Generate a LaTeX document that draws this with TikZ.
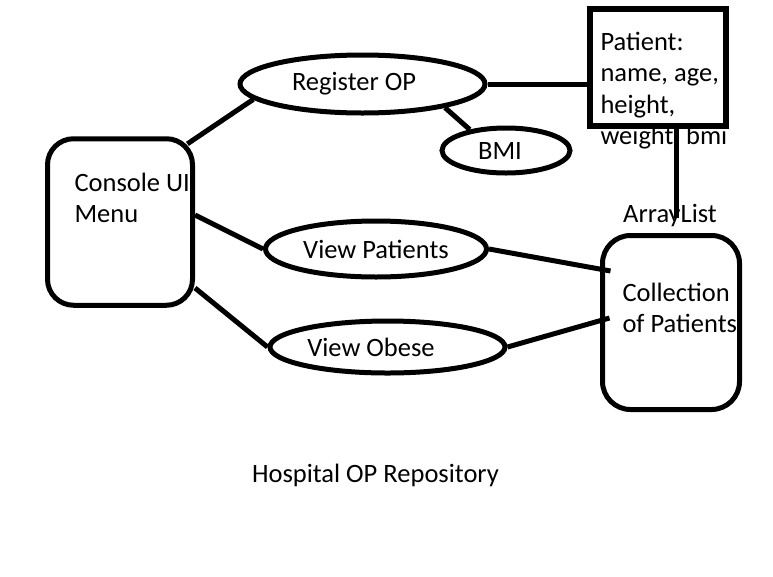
\documentclass[tikz,border=0pt]{standalone}
\usepackage{fontspec}
\setmainfont{Carlito}
\usetikzlibrary{shapes.geometric,calc}
\begin{document}
\begin{tikzpicture}[x=1pt,y=-1pt,line width=5pt,
  every node/.style={font=\fontsize{26.5}{31.5}\selectfont},
  oval/.style={ellipse,draw,inner sep=0pt},
  rbox/.style={rectangle,draw,inner sep=0pt},
  txt/.style={inner sep=0pt},
  link/.style={line width=5pt}]
\useasboundingbox (0,0) rectangle (773,576);
% boxes
\node[rbox,rounded corners=26pt,minimum width=145pt,minimum height=166.5pt] (console) at (120,222) {};
\node[rbox,rounded corners=28pt,minimum width=137pt,minimum height=174pt] (coll) at (671,322.5) {};
\node[rbox,line width=6pt,minimum width=135.5pt,minimum height=116.5pt] (patient) at (657.75,67.25) {};
% ellipses
\node[oval,minimum width=245pt,minimum height=58pt,label={[xshift=-8.5pt]center:Register OP}] (reg) at (362.5,84) {};
\node[oval,minimum width=128pt,minimum height=45pt,label={[xshift=-6pt]center:BMI}] (bmi) at (506,150.5) {};
\node[oval,minimum width=221pt,minimum height=56pt,label={center:View Patients}] (vp) at (376,249) {};
\node[oval,minimum width=235pt,minimum height=52pt,label={[xshift=-16.5pt]center:View Obese}] (vo) at (387.5,347) {};
% texts
\node[txt,anchor=base west] (consoletext) at (72,191) {\begin{tabular}[t]{@{}l@{}}Console UI\\Menu\end{tabular}};
\node[txt,anchor=base west] (patienttext) at (598,50) {\begin{tabular}[t]{@{}l@{}}Patient:\\name, age,\\height,\\weight, bmi\end{tabular}};
\node[txt,anchor=base west] (colltext) at (620,301) {\begin{tabular}[t]{@{}l@{}}Collection\\of Patients\end{tabular}};
\node[txt,anchor=base] (arr) at (670,222) {ArrayList};
\node[txt,anchor=base] (title) at (375.5,482) {Hospital OP Repository};
% connectors
\draw[link] ($(console.north east)+(-7.6,7.6)$) -- (reg.188);
\draw[link] (reg.344) -- (bmi.150);
\draw[link] (reg.east) -- (reg.east -| patient.west);
\draw[link,shorten >=4pt] ([xshift=19pt]patient.south) -- ([xshift=19pt]patient.south |- arr.base);
\draw[link] ([yshift=7pt]console.east) -- (vp.west);
\draw[link] ([yshift=-66pt]console.east) -- (vo.west);
\draw[link] (vp.east) -- ([shift={(10.5pt,51.5pt)}]coll.west);
\draw[link] (vo.east) -- ([shift={(9.5pt,4.5pt)}]coll.west);
\end{tikzpicture}
\end{document}
